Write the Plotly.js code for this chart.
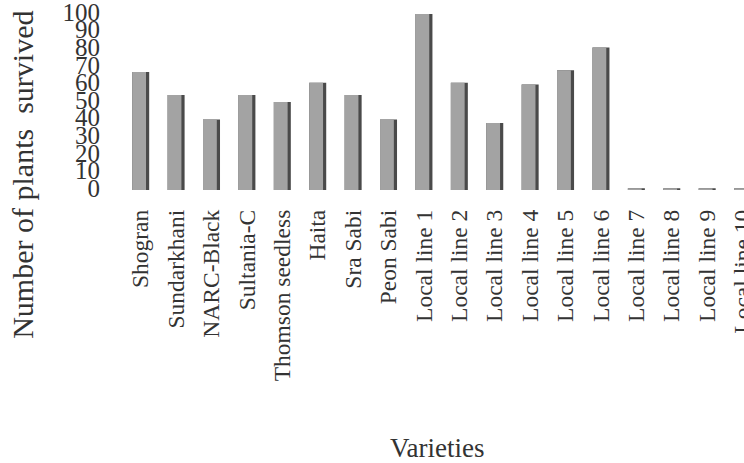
<!DOCTYPE html>
<html>
<head>
<meta charset="utf-8">
<script src="https://cdn.plot.ly/plotly-3.0.1.min.js"></script>
<style>html,body{margin:0;padding:0;background:#fff;}#chart{width:744px;height:463px;}</style>
</head>
<body>
<div id="chart"></div>
<script>
var varieties = ["Shogran","Sundarkhani","NARC-Black","Sultania-C","Thomson seedless","Haita","Sra Sabi","Peon Sabi","Local line 1","Local line 2","Local line 3","Local line 4","Local line 5","Local line 6","Local line 7","Local line 8","Local line 9","Local line 10"];
var plantsSurvived = [67, 54, 40, 54, 50, 61, 54, 40, 100, 61, 38, 60, 68, 81, 1, 1, 1, 1];
var yTickValues = [0,10,20,30,40,50,60,70,80,90,100];
var yTickLabels = ["0","10","20","30","40","50","60","70","80","90","100"];

var sideTrace = {
  type: "bar", x: varieties, y: plantsSurvived,
  width: 0.48, offset: -0.24,
  marker: {color: "#4a4a4a", line: {width: 0}},
  hoverinfo: "skip", showlegend: false
};
var frontTrace = {
  type: "bar", x: varieties, y: plantsSurvived,
  width: 0.39, offset: -0.24,
  marker: {color: "#a3a3a3", line: {width: 0}},
  hoverinfo: "skip", showlegend: false
};

var serif = "Liberation Serif, Times New Roman, serif";
var layout = {
  width: 744, height: 463,
  margin: {l: 123, r: 0, t: 14, b: 273},
  paper_bgcolor: "#ffffff", plot_bgcolor: "#ffffff",
  barmode: "overlay",
  showlegend: false,
  font: {family: serif, color: "#333333"},
  xaxis: {
    type: "category",
    range: [-0.5, 17.04],
    tickangle: -90,
    tickfont: {family: serif, size: 23.5, color: "#333333"},
    showgrid: false, zeroline: false, showline: false,
    ticks: "", ticklabelstandoff: 14, automargin: false
  },
  yaxis: {
    range: [0, 100],
    tickmode: "array", tickvals: yTickValues, ticktext: yTickLabels,
    tickfont: {family: serif, size: 25, color: "#333333"},
    showgrid: false, zeroline: false, showline: false,
    ticks: "", ticklabelstandoff: 22, ticklabelshift: -2,
    ticklabeloverflow: "allow", automargin: false
  },
  annotations: [
    {text: "Number of plants  survived", xref: "paper", yref: "paper",
     x: -0.163, y: 0.085, xanchor: "center", yanchor: "middle", textangle: -90,
     showarrow: false, font: {family: serif, size: 30, color: "#333333"}},
    {text: "Varieties", xref: "paper", yref: "paper",
     x: 0.506, y: -1.466, xanchor: "center", yanchor: "middle",
     showarrow: false, font: {family: serif, size: 27, color: "#333333"}}
  ]
};
Plotly.newPlot("chart", [sideTrace, frontTrace], layout, {staticPlot: true, displayModeBar: false});
</script>
</body>
</html>
